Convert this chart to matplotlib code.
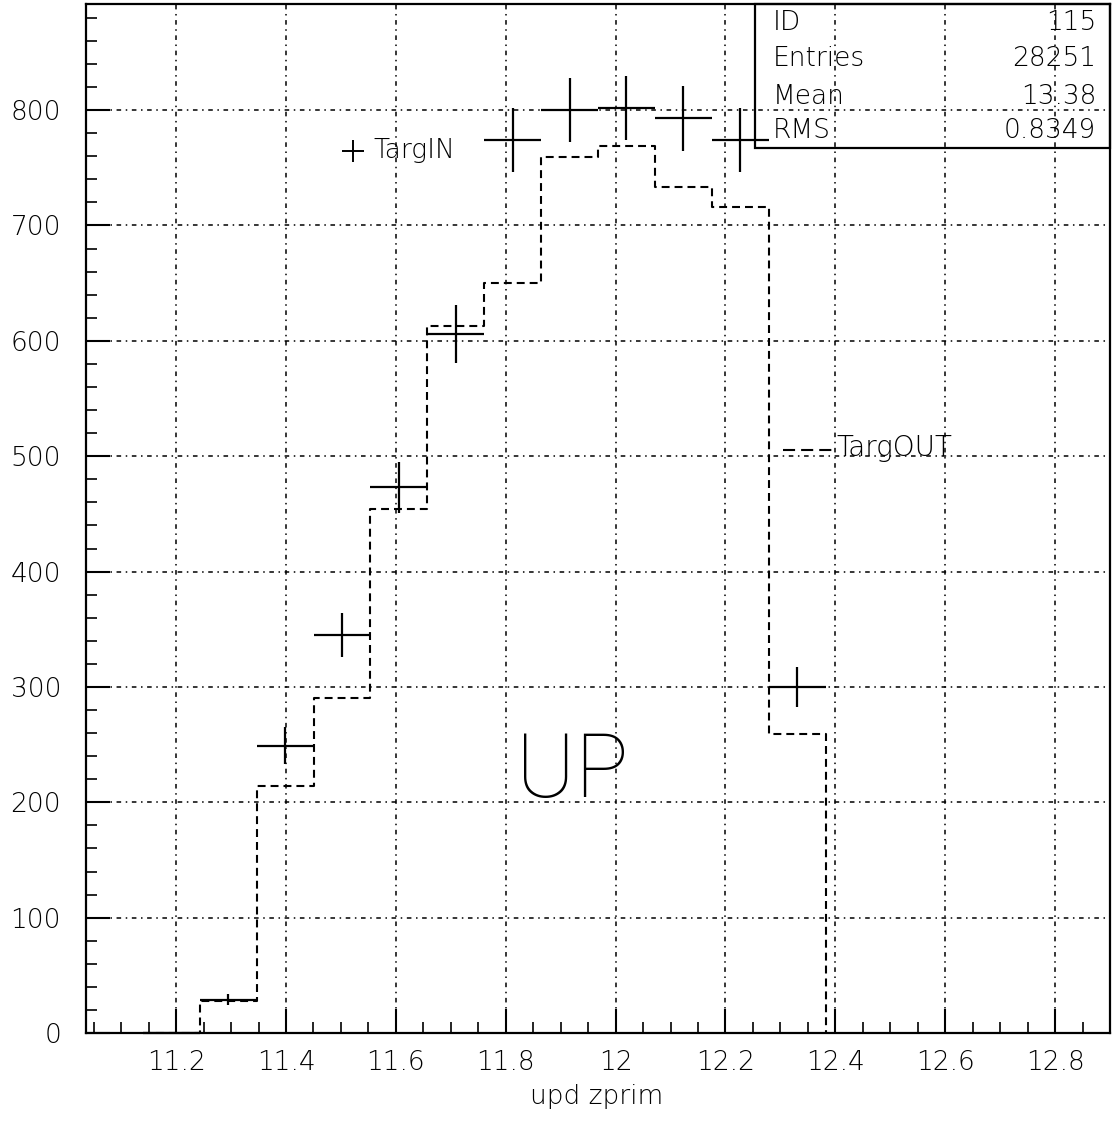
import numpy as np
import matplotlib
matplotlib.use('Agg')
import matplotlib.pyplot as plt
from matplotlib import font_manager
from matplotlib.patches import Rectangle

# histogram binning (upd zprim), 18 bins over the axis range
bin_edges = np.linspace(11.036, 12.9, 19)
first_bin = 1  # first filled bin

# TargIN (points with errors)
targ_in = [0, 29, 249, 345, 473, 606, 774, 800, 802, 793, 774, 300]
targ_in_err = [0, 5, 16, 19, 22, 25, 28, 28, 28, 28, 28, 17]

# TargOUT (dashed histogram)
targ_out = [0, 28, 214, 290, 454, 613, 650, 759, 769, 733, 716, 259]

stats_names = ['ID', 'Entries', 'Mean', 'RMS']
stats_values = ['115', '28251', '13.38', '0.8349']

# thin font if there is one, otherwise plain
light = [f for f in font_manager.fontManager.ttflist
         if f.name == 'DejaVu Sans' and f.weight in (200, 'extra-light', 'ultralight')]
if light:
    plt.rcParams['font.family'] = ['DejaVu Sans']
    plt.rcParams['font.weight'] = 200
else:
    plt.rcParams['font.family'] = ['Roboto', 'DejaVu Sans']

fig = plt.figure(figsize=(11.13, 11.43), dpi=100)
ax = fig.add_axes([0.0773, 0.0962, 0.9200, 0.9003])

n = len(targ_in)
edges = bin_edges[first_bin:first_bin + n + 1]
centers = (edges[:-1] + edges[1:]) / 2
half = (edges[1:] - edges[:-1]) / 2

# TargOUT step outline
out_x = np.concatenate([[edges[0]], np.repeat(edges[1:-1], 2), [edges[-1], edges[-1]]])
out_y = np.concatenate([np.repeat(targ_out, 2), [0]])
ax.plot(out_x, out_y, color='black', lw=1.5, ls=(0, (3.8, 2.4)))

# TargIN crosses
eb = ax.errorbar(centers, targ_in, xerr=half, yerr=targ_in_err, fmt='none',
                 ecolor='black', elinewidth=1.6, capsize=0)
for c in eb[2]:
    c.set_clip_on(False)

ax.set_xlim(bin_edges[0], bin_edges[-1])
ax.set_ylim(0, 892)

ax.set_xticks(np.arange(11.2, 12.81, 0.2))
ax.set_xticklabels(['11.2', '11.4', '11.6', '11.8', '12', '12.2', '12.4', '12.6', '12.8'])
ax.set_xticks(np.arange(11.05, 12.9, 0.05), minor=True)
ax.set_yticks(np.arange(0, 801, 100))
ax.set_yticks(np.arange(0, 892, 20), minor=True)

ax.tick_params(which='major', direction='in', length=17, width=1.5, labelsize=19)
ax.tick_params(which='minor', direction='in', length=8, width=1.2)
ax.tick_params(axis='y', which='major', pad=18)
ax.tick_params(axis='x', which='major', pad=12)
for s in ax.spines.values():
    s.set_linewidth(1.6)

ax.grid(True, which='major', color='black', lw=1.1, ls=(0, (3, 3, 1, 3)))

# legend-like labels
ax.plot([11.522], [765], marker='+', color='black', ms=16, mew=1.4)
ax.text(11.560, 765, 'TargIN', fontsize=19, va='center', ha='left')
ax.plot([12.304, 12.398], [505, 505], color='black', lw=1.5, ls=(0, (5.8, 2.9)))
ax.text(12.402, 507, 'TargOUT', fontsize=20, va='center', ha='left')

ax.text(11.922, 226, 'UP', fontsize=64, va='center', ha='center',
        family=['Roboto', 'DejaVu Sans'], fontweight='light')

fig.text(0.536, 0.041, 'upd zprim', fontsize=19, ha='center', va='center')

# statistics box
ax.add_patch(Rectangle((0.653, 0.860), 0.347, 0.140, transform=ax.transAxes,
                       fill=False, ec='black', lw=1.6, clip_on=False))
rows_y = [22, 59, 96, 131]
for name, val, yp in zip(stats_names, stats_values, rows_y):
    fy = 1 - yp / 1143
    fig.text(773 / 1113, fy, name, fontsize=19, ha='left', va='center')
    fig.text(1096 / 1113, fy, val, fontsize=19, ha='right', va='center')

fig.savefig('out.png', dpi=100)
